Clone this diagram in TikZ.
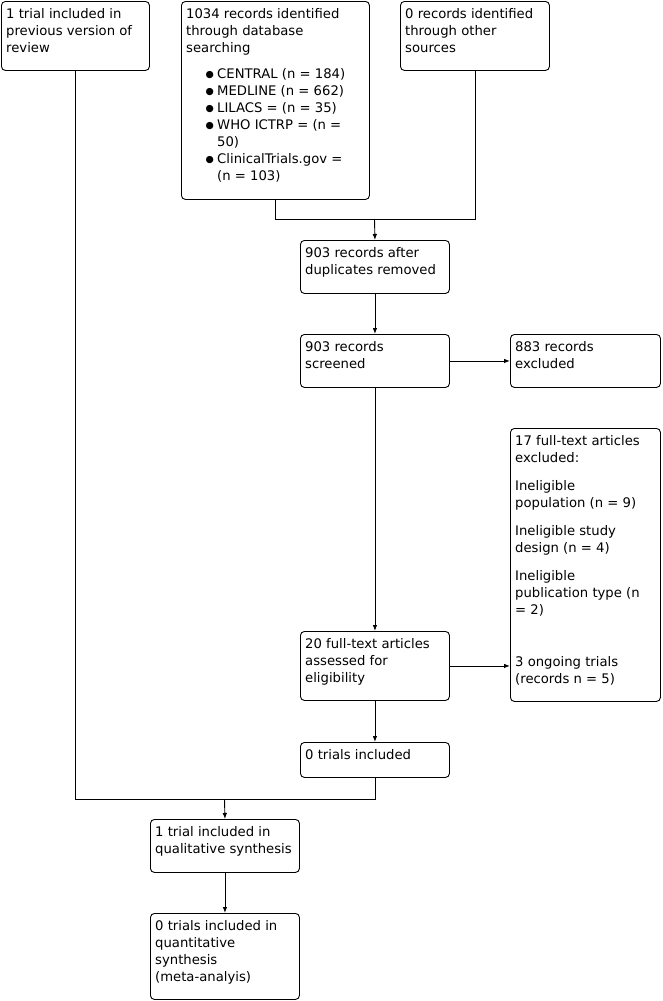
\documentclass[tikz,border=0pt]{standalone}
\usepackage{fontspec}
\setmainfont{DejaVu Sans}
\usetikzlibrary{arrows.meta}
\newcommand{\bul}{\makebox[31pt][l]{\hspace{19.5pt}\raisebox{0.8pt}{\fontsize{9.5}{9.5}\selectfont ●}}}
\newcommand{\ind}{\makebox[31pt][l]{}}
\begin{document}
\begin{tikzpicture}[x=1pt,y=-1pt,
  box/.style={draw, rounded corners=4pt, line width=0.9pt, anchor=north west, inner sep=0pt},
  txt/.style={anchor=north west, align=left, inner sep=0pt, font=\fontsize{13.2}{17}\selectfont},
  conn/.style={line width=0.9pt},
  arr/.style={conn, -{Latex[length=6pt,width=4.5pt]}},
]
\useasboundingbox (0,0) rectangle (662,1001);

\node[box, minimum width=148pt, minimum height=69pt] (A) at (1,1) {};
\node[box, minimum width=188pt, minimum height=198pt] (B) at (181,1) {};
\node[box, minimum width=149pt, minimum height=69pt] (C) at (400,1) {};
\node[box, minimum width=149pt, minimum height=53pt] (D) at (300,240) {};
\node[box, minimum width=149pt, minimum height=53pt] (E) at (300,334) {};
\node[box, minimum width=150pt, minimum height=53pt] (F) at (510,334) {};
\node[box, minimum width=150pt, minimum height=273pt] (G) at (510,428) {};
\node[box, minimum width=149pt, minimum height=69pt] (H) at (300,631) {};
\node[box, minimum width=149pt, minimum height=35pt] (I) at (300,742) {};
\node[box, minimum width=149pt, minimum height=53pt] (J) at (150,819) {};
\node[box, minimum width=149pt, minimum height=86pt] (K) at (150,913) {};

\node[txt] (At) at ([xshift=5pt]A.north west) {\rule{0pt}{17pt}1 trial included in\\previous version of\\review};
\node[txt] (Bt) at ([xshift=5pt]B.north west) {\rule{0pt}{17pt}1034 records identified\\through database\\searching\\[9pt]
\bul CENTRAL (n = 184)\\\bul MEDLINE (n = 662)\\\bul LILACS = (n = 35)\\\bul WHO ICTRP = (n =\\\ind 50)\\\bul ClinicalTrials.gov =\\\ind (n = 103)};
\node[txt] (Ct) at ([xshift=5pt]C.north west) {\rule{0pt}{17pt}0 records identified\\through other\\sources};
\node[txt] (Dt) at ([xshift=5pt]D.north west) {\rule{0pt}{17pt}903 records after\\duplicates removed};
\node[txt] (Et) at ([xshift=5pt]E.north west) {\rule{0pt}{17pt}903 records\\screened};
\node[txt] (Ft) at ([xshift=5pt]F.north west) {\rule{0pt}{17pt}883 records\\excluded};
\node[txt] (Gt) at ([xshift=5pt]G.north west) {\rule{0pt}{17pt}17 full-text articles\\excluded:\\[11pt]Ineligible\\population (n = 9)\\[11pt]Ineligible study\\design (n = 4)\\[11pt]Ineligible\\publication type (n\\= 2)\\[35pt]3 ongoing trials\\(records n = 5)};
\node[txt] (Ht) at ([xshift=5pt]H.north west) {\rule{0pt}{17pt}20 full-text articles\\assessed for\\eligibility};
\node[txt] (It) at ([xshift=5pt]I.north west) {\rule{0pt}{17pt}0 trials included};
\node[txt] (Jt) at ([xshift=5pt]J.north west) {\rule{0pt}{17pt}1 trial included in\\qualitative synthesis};
\node[txt] (Kt) at ([xshift=5pt]K.north west) {\rule{0pt}{17pt}0 trials included in\\quantitative\\synthesis\\(meta-analyis)};

\coordinate (j1) at (374.5,219);
\coordinate (j2) at (224.5,799);
\draw[conn] (B.south) |- (j1);
\draw[conn] (C.south) |- (j1);
\draw[arr] (j1) -- (D.north);
\draw[arr] (D.south) -- (E.north);
\draw[arr] (E.east) -- (F.west);
\draw[arr] (E.south) -- (H.north);
\draw[arr] (H.east) -- (H.east -| G.west);
\draw[arr] (H.south) -- (I.north);
\draw[conn] (A.south) |- (j2);
\draw[conn] (I.south) |- (j2);
\draw[arr] (j2) -- (J.north);
\draw[arr] (J.south) -- (K.north);
\end{tikzpicture}
\end{document}
